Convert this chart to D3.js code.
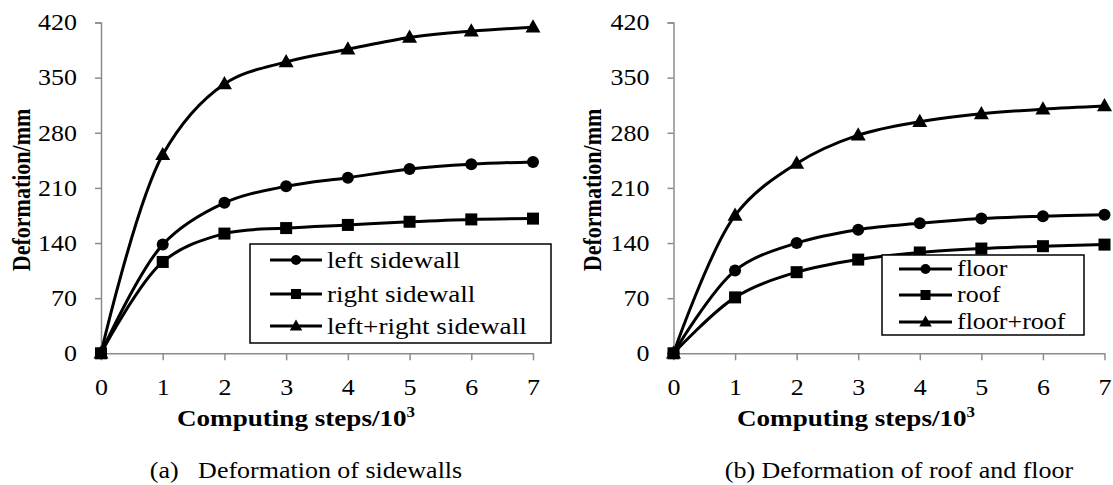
<!DOCTYPE html>
<html>
<head>
<meta charset="utf-8">
<script src="https://cdn.jsdelivr.net/npm/d3@7"></script>
<style>
  body { margin: 0; background: #fff; }
</style>
</head>
<body>
<svg id="chart" width="1113" height="485"></svg>
<script>
// the data
const steps = [0, 1, 2, 3, 4, 5, 6, 7];
const yTicks = [0, 70, 140, 210, 280, 350, 420];

// (a) sidewalls
const leftSidewall      = [0, 138, 191, 212, 223, 234, 240, 243];
const rightSidewall     = [0, 116, 152, 159, 163, 167, 170, 171];
const leftRightSidewall = [0, 252, 342, 370, 386, 401, 409, 414];

// (b) roof and floor
const floorDef  = [0, 105, 140, 157, 165, 171, 174, 176];
const roofDef   = [0, 71, 103, 119, 128, 133, 136, 138];
const floorRoof = [0, 175, 241, 277, 294, 304, 310, 314];

const namesA = ["left sidewall", "right sidewall", "left+right sidewall"];
const namesB = ["floor", "roof", "floor+roof"];
const markers = ["circle", "square", "triangle"];

const xTitle = "Computing steps/10";
const yTitle = "Deformation/mm";
const captionA = "(a)\u00a0\u00a0\u00a0Deformation of sidewalls";
const captionB = "(b) Deformation of roof and floor";

const FONT = "'Liberation Serif', 'Times New Roman', Times, serif";
// the original figure is a bit wider than tall, text included
const SX = 1.13;

let svg = d3.select("#chart");

// panel layout
const panels = [
  { x0: 101, x1: 533, series: [leftSidewall, rightSidewall, leftRightSidewall], names: namesA,
    yTitleX: 21, xTitleX: 296, caption: captionA, capX: 306,
    legend: { x: 250, y: 244, w: 301, h: 99, rowY: [260, 294, 326], lx0: 270, lx1: 322, tx: 327, fs: 24 } },
  { x0: 673.5, x1: 1104.5, series: [floorDef, roofDef, floorRoof], names: namesB,
    yTitleX: 592, xTitleX: 856, caption: captionB, capX: 899,
    legend: { x: 882, y: 255, w: 202, h: 80, rowY: [269, 295, 322], lx0: 899, lx1: 952, tx: 957, fs: 23 } }
];

const yTop = 22.5, yBot = 353.3;
const axisColor = "#8c8c8c";

// text stretched horizontally like the source image
function label(x, y, str, size, opts) {
  opts = opts || {};
  let t = svg.append("text")
    .attr("transform", `translate(${x},${y}) scale(${SX},1)` + (opts.rotate ? ` rotate(${opts.rotate})` : ""))
    .attr("text-anchor", opts.anchor || "start")
    .attr("font-size", size)
    .attr("font-weight", opts.bold ? "bold" : "normal")
    .attr("fill", "#000")
    .style("font-family", FONT)
    .text(str);
  if (opts.dy) t.attr("dy", opts.dy);
  return t;
}

function drawMarker(g, type, cx, cy, s) {
  if (type === "circle") {
    g.append("circle").attr("cx", cx).attr("cy", cy).attr("r", s / 2).attr("fill", "#000");
  } else if (type === "square") {
    g.append("rect").attr("x", cx - s / 2).attr("y", cy - s / 2)
      .attr("width", s).attr("height", s).attr("fill", "#000");
  } else {
    let w = s * 1.25, h = s * 1.1;
    g.append("path")
      .attr("d", `M${cx},${cy - h * 0.6}L${cx + w / 2},${cy + h * 0.4}L${cx - w / 2},${cy + h * 0.4}Z`)
      .attr("fill", "#000");
  }
}

panels.forEach(function (p) {
  let x = d3.scaleLinear().domain([0, 7]).range([p.x0, p.x1]);
  let y = d3.scaleLinear().domain([0, 420]).range([yBot, yTop]);

  // y axis
  let ya = svg.append("g")
    .attr("transform", `translate(${p.x0},0)`)
    .call(d3.axisLeft(y).tickValues(yTicks).tickFormat(d3.format("d"))
      .tickSize(6).tickPadding(17).tickSizeOuter(6));
  ya.selectAll("path, line").attr("stroke", axisColor).attr("stroke-width", 1.5);
  ya.selectAll("text")
    .attr("x", 0)
    .attr("transform", `translate(-24,0) scale(${SX},1)`)
    .attr("font-size", 23).style("font-family", FONT).attr("fill", "#000");

  // x axis
  let xa = svg.append("g")
    .attr("transform", `translate(0,${yBot})`)
    .call(d3.axisBottom(x).tickValues(steps).tickFormat(d3.format("d"))
      .tickSize(7).tickPadding(18).tickSizeOuter(0));
  xa.selectAll("path, line").attr("stroke", axisColor).attr("stroke-width", 1.5);
  xa.selectAll("text")
    .attr("x", 0)
    .attr("transform", `scale(${SX},1)`)
    .attr("font-size", 23).style("font-family", FONT).attr("fill", "#000");

  // lines
  let line = d3.line()
    .x((d, i) => x(steps[i]))
    .y(d => y(d))
    .curve(d3.curveCatmullRom.alpha(0.5));

  p.series.forEach(function (s, k) {
    svg.append("path")
      .datum(s)
      .attr("d", line)
      .attr("fill", "none")
      .attr("stroke", "#000")
      .attr("stroke-width", 3);
    let mg = svg.append("g");
    s.forEach(function (v, i) {
      drawMarker(mg, markers[k], x(steps[i]), y(v), 12);
    });
  });

  // legend
  let L = p.legend;
  svg.append("rect")
    .attr("x", L.x).attr("y", L.y).attr("width", L.w).attr("height", L.h)
    .attr("fill", "#fff").attr("stroke", "#000").attr("stroke-width", 1.5);
  p.names.forEach(function (n, k) {
    svg.append("line")
      .attr("x1", L.lx0).attr("x2", L.lx1)
      .attr("y1", L.rowY[k]).attr("y2", L.rowY[k])
      .attr("stroke", "#000").attr("stroke-width", 3);
    drawMarker(svg, markers[k], (L.lx0 + L.lx1) / 2, L.rowY[k], 10);
    label(L.tx, L.rowY[k], n, L.fs, { dy: "0.32em" });
  });

  // axis titles
  label(p.yTitleX, (yTop + yBot) / 2 + 2, yTitle, 22,
    { anchor: "middle", bold: true, rotate: -90, dy: "0.35em" });

  let xt = label(p.xTitleX, 426, xTitle, 24, { anchor: "middle", bold: true });
  xt.append("tspan").attr("dy", -9).attr("font-size", 15).text("3");

  // caption
  label(p.capX, 478, p.caption, 23, { anchor: "middle" });
});
</script>
</body>
</html>
